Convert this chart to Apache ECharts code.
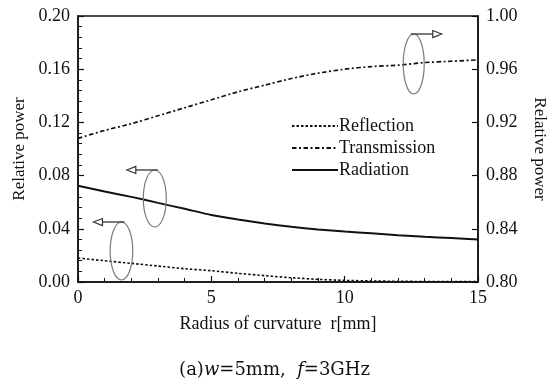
<!DOCTYPE html>
<html>
<head>
<meta charset="utf-8">
<script src="https://cdn.jsdelivr.net/npm/echarts@6/dist/echarts.min.js"></script>
<style>
html,body{margin:0;padding:0;background:#fff;}
#c{width:549px;height:383px;}
</style>
</head>
<body>
<div id="c"></div>
<script>
// ---- data ----
var radius = [0,1,2,3,4,5,6,7,8,9,10,11,12,13,14,15];
var reflection = [0.018,0.016,0.014,0.012,0.010,0.0085,0.0065,0.0048,0.0032,0.0020,0.0012,0.0008,0.0005,0.0004,0.0003,0.0003];
var transmission = [0.908,0.914,0.919,0.925,0.931,0.937,0.943,0.948,0.953,0.957,0.960,0.962,0.963,0.965,0.966,0.967];
var radiation = [0.0724,0.068,0.064,0.0595,0.055,0.0504,0.047,0.044,0.0415,0.0395,0.038,0.0366,0.0352,0.034,0.033,0.032];
var seriesNames = ['Reflection','Transmission','Radiation'];
var xTitle = 'Radius of curvature  r[mm]';
var yTitle = 'Relative power';

function zip(xs, ys){ return xs.map(function(x,i){ return [x, ys[i]]; }); }

var serif = 'Liberation Serif';
var chart = echarts.init(document.getElementById('c'), null, {renderer:'canvas'});

var tickLabel = {fontFamily: serif, fontSize: 18, color: '#111'};

chart.setOption({
  animation: false,
  backgroundColor: '#fff',
  grid: {left: 78, right: 71, top: 16, bottom: 101, containLabel: false, outerBoundsMode: 'none',
         show: true, borderColor: '#111', borderWidth: 1.5, backgroundColor: 'transparent'},
  legend: {
    orient: 'vertical', left: 291, top: 117, padding: 0,
    itemWidth: 46, itemHeight: 10, itemGap: 4,
    data: seriesNames,
    itemStyle: {opacity: 0},
    textStyle: {fontFamily: serif, fontSize: 18, color: '#111', padding: [0,0,0,-4]}
  },
  xAxis: {
    type: 'value', min: 0, max: 15, interval: 5,
    name: xTitle, nameLocation: 'middle', nameGap: 33,
    nameTextStyle: {fontFamily: serif, fontSize: 18, color: '#111'},
    axisLine: {lineStyle: {color: '#111', width: 1.5}},
    axisTick: {inside: true, length: 6, lineStyle: {color: '#111', width: 1.2}},
    minorTick: {show: true, splitNumber: 5, length: 4, lineStyle: {color: '#111', width: 1}},
    axisLabel: Object.assign({margin: 7}, tickLabel),
    splitLine: {show: false}
  },
  yAxis: [{
    type: 'value', min: 0, max: 0.2, interval: 0.04, position: 'left',
    name: yTitle, nameLocation: 'middle', nameGap: 47, nameRotate: 90,
    nameTextStyle: {fontFamily: serif, fontSize: 17, color: '#111'},
    axisLine: {show: true, lineStyle: {color: '#111', width: 1.5}},
    axisTick: {inside: true, length: 6, lineStyle: {color: '#111', width: 1.2}},
    minorTick: {show: true, splitNumber: 5, length: 4, lineStyle: {color: '#111', width: 1}},
    axisLabel: Object.assign({margin: 8, formatter: function(v){return v.toFixed(2);}}, tickLabel),
    splitLine: {show: false}
  },{
    type: 'value', min: 0.8, max: 1.0, interval: 0.04, position: 'right',
    name: yTitle, nameLocation: 'middle', nameGap: 53, nameRotate: -90,
    nameTextStyle: {fontFamily: serif, fontSize: 17, color: '#111'},
    axisLine: {show: true, lineStyle: {color: '#111', width: 1.5}},
    axisTick: {inside: true, length: 6, lineStyle: {color: '#111', width: 1.2}},
    axisLabel: Object.assign({margin: 8, formatter: function(v){return v.toFixed(2);}}, tickLabel),
    splitLine: {show: false}
  }],
  series: [{
    name: seriesNames[0], type: 'line', yAxisIndex: 0, symbol: 'none',
    data: zip(radius, reflection), smooth: 0.2,
    lineStyle: {color: '#111', width: 1.6, type: [2.5, 2]}, itemStyle: {color: '#111'}
  },{
    name: seriesNames[1], type: 'line', yAxisIndex: 1, symbol: 'none',
    data: zip(radius, transmission), smooth: 0.2,
    lineStyle: {color: '#111', width: 1.7, type: [4.5, 2.5, 2, 2.5]}, itemStyle: {color: '#111'}
  },{
    name: seriesNames[2], type: 'line', yAxisIndex: 0, symbol: 'none',
    data: zip(radius, radiation), smooth: 0.2,
    lineStyle: {color: '#111', width: 2}, itemStyle: {color: '#111'}
  }]
});

// ---- annotation ellipses with arrows (anchored in data coords) ----
var annots = [
  {c: [12.59, 0.1639], rx: 10.5, ry: 30, dir: 1},
  {c: [2.88, 0.0628], rx: 11.5, ry: 28.5, dir: -1},
  {c: [1.63, 0.0233], rx: 11.3, ry: 29, dir: -1}
];
var els = [];
annots.forEach(function(a){
  var p = chart.convertToPixel({xAxisIndex:0, yAxisIndex:0}, a.c);
  els.push({type:'ellipse', shape:{cx:p[0], cy:p[1], rx:a.rx, ry:a.ry},
    style:{fill:'none', stroke:'#7a7a7a', lineWidth:1.2}, z:50});
  var y = p[1] - a.ry;
  var x0 = p[0] - 3*a.dir;
  var tip = p[0] + a.dir*28;
  var base = tip - a.dir*9;
  els.push({type:'line', shape:{x1:x0, y1:y, x2:base, y2:y},
    style:{stroke:'#333', lineWidth:1.3}, z:50});
  els.push({type:'polygon', shape:{points:[[tip,y],[base,y-3.5],[base,y+3.5]]},
    style:{fill:'#fff', stroke:'#333', lineWidth:1.2}, z:51});
});
// caption
els.push({type:'text', left:'center', top: 361,
  style:{
    text: '{n|(a)}{i|w}{n|=5mm,  }{i|f}{n|=3GHz}',
    rich: {
      n: {fontFamily:'DejaVu Serif', fontSize:18, fill:'#111'},
      i: {fontFamily:'DejaVu Serif', fontStyle:'italic', fontSize:18, fill:'#111'}
    }
  }});
chart.setOption({graphic: els});
</script>
</body>
</html>
